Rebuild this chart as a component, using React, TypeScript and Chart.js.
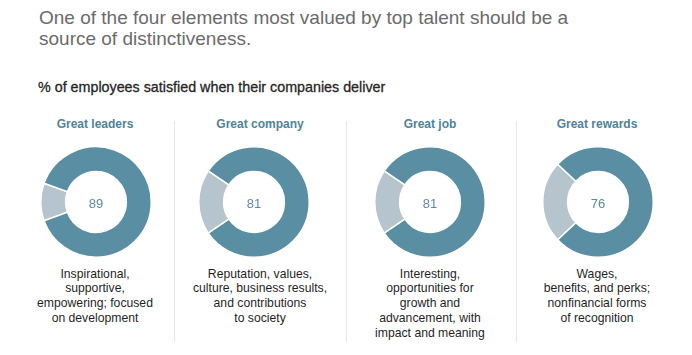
import React, { useEffect, useRef } from "react";
import { Chart, registerables } from "chart.js";

Chart.register(...registerables);

// ---- data ----
const heading = [
  "One of the four elements most valued by top talent should be a",
  "source of distinctiveness.",
];
const subtitle = "% of employees satisfied when their companies deliver";
const categories = ["Great leaders", "Great company", "Great job", "Great rewards"];
const satisfied = [89, 81, 81, 76];
const descriptions = [
  ["Inspirational,", "supportive,", "empowering; focused", "on development"],
  ["Reputation, values,", "culture, business results,", "and contributions", "to society"],
  ["Interesting,", "opportunities for", "growth and", "advancement, with", "impact and meaning"],
  ["Wages,", "benefits, and perks;", "nonfinancial forms", "of recognition"],
];

// ---- layout ----
const textCenters = [95, 260, 430, 597];
const donutCenters = [96, 254, 430, 598];
const dividerXs = [174, 346, 516];
const DONUT_SIZE = 112;
const DONUT_CY = 201.7;
const TEAL = "#5a8fa3";
const GREY = "#b6c5cd";
const FONT = "'Liberation Sans', Arial, Helvetica, sans-serif";

const centerText = {
  id: "centerText",
  afterDraw(chart: any) {
    const val = chart.options.plugins.centerText?.text;
    if (val == null) return;
    const { ctx, chartArea } = chart;
    const cx = (chartArea.left + chartArea.right) / 2;
    const cy = (chartArea.top + chartArea.bottom) / 2;
    ctx.save();
    ctx.font = `13px ${FONT}`;
    ctx.fillStyle = "#5f8a9b";
    ctx.textAlign = "center";
    ctx.textBaseline = "middle";
    ctx.fillText(String(val), cx, cy + 2);
    ctx.restore();
  },
};

function Donut({ value, left }: { value: number; left: number }) {
  const ref = useRef<HTMLCanvasElement>(null);
  useEffect(() => {
    if (!ref.current) return;
    const rest = 100 - value;
    const chart = new Chart(ref.current, {
      type: "doughnut",
      data: {
        labels: ["Not satisfied", "Satisfied"],
        datasets: [
          {
            data: [rest, value],
            backgroundColor: [GREY, TEAL],
            borderColor: "#ffffff",
            borderWidth: 1.5,
            hoverOffset: 0,
          },
        ],
      },
      options: {
        animation: false,
        responsive: false,
        maintainAspectRatio: false,
        cutout: "55%",
        rotation: 270 - (rest * 3.6) / 2,
        layout: { padding: 0 },
        events: [],
        plugins: {
          legend: { display: false },
          tooltip: { enabled: false },
          centerText: { text: value },
        } as any,
      },
      plugins: [centerText],
    });
    return () => chart.destroy();
  }, [value]);
  return (
    <canvas
      ref={ref}
      width={DONUT_SIZE}
      height={DONUT_SIZE}
      style={{
        position: "absolute",
        left: left - DONUT_SIZE / 2,
        top: DONUT_CY - DONUT_SIZE / 2,
        width: DONUT_SIZE,
        height: DONUT_SIZE,
      }}
    />
  );
}

export default function App() {
  return (
    <div
      style={{
        position: "absolute",
        left: 0,
        top: 0,
        width: 692,
        height: 355,
        background: "#ffffff",
        fontFamily: FONT,
        overflow: "hidden",
      }}
    >
      <div
        style={{
          position: "absolute",
          left: 39,
          top: 6.5,
          fontSize: 19,
          lineHeight: "21px",
          color: "#6b6b6b",
          whiteSpace: "nowrap",
        }}
      >
        {heading.map((l, i) => (
          <div key={i}>{l}</div>
        ))}
      </div>
      <div
        style={{
          position: "absolute",
          left: 38,
          top: 79,
          fontSize: 14.3,
          lineHeight: "16px",
          color: "#262626",
          whiteSpace: "nowrap",
          WebkitTextStroke: "0.3px #262626",
        }}
      >
        {subtitle}
      </div>

      {dividerXs.map((x, i) => (
        <div
          key={i}
          style={{
            position: "absolute",
            left: x,
            top: 121,
            width: 1,
            height: 221,
            background: "#e6e6e6",
          }}
        />
      ))}

      {categories.map((c, i) => (
        <React.Fragment key={c}>
          <div
            style={{
              position: "absolute",
              left: textCenters[i] - 85,
              width: 170,
              top: 117,
              fontSize: 12,
              lineHeight: "14px",
              fontWeight: "bold",
              color: "#4d8498",
              textAlign: "center",
              whiteSpace: "nowrap",
            }}
          >
            {c}
          </div>
          <Donut value={satisfied[i]} left={donutCenters[i]} />
          <div
            style={{
              position: "absolute",
              left: textCenters[i] - 85,
              width: 170,
              top: 266.7,
              fontSize: 12.2,
              lineHeight: "14.7px",
              color: "#1f1f1f",
              textAlign: "center",
              whiteSpace: "nowrap",
            }}
          >
            {descriptions[i].map((l, j) => (
              <div key={j}>{l}</div>
            ))}
          </div>
        </React.Fragment>
      ))}
    </div>
  );
}
